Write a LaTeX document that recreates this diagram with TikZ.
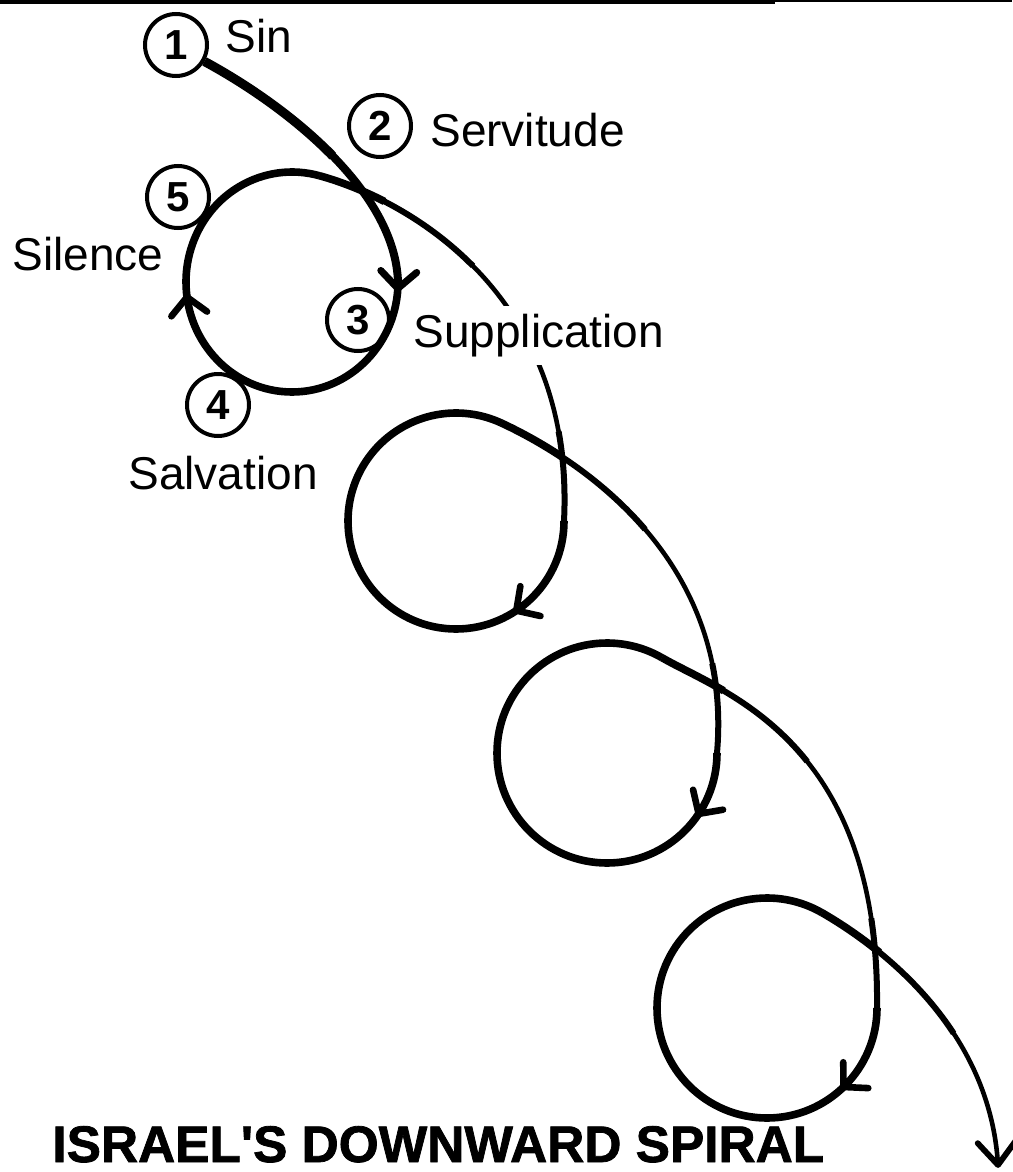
\documentclass[tikz,border=0pt]{standalone}
\usepackage{fontspec}
\setmainfont{Liberation Sans}
\newfontfamily\heavyfont{Liberation Sans Bold}[FakeBold=1.5]
\usetikzlibrary{decorations.markings}

\newcommand{\spiralarc}[4]{%
  \draw[thinline] (#1) .. controls #2 and #3 .. (#4);
  \draw[midline, dash pattern=on 90pt off 3000pt] (#1) .. controls #2 and #3 .. (#4);
  \draw[loopline, dash pattern=on 35pt off 3000pt] (#1) .. controls #2 and #3 .. (#4);
  \draw[midline, dash pattern=on 45pt off 3000pt] (#4) .. controls #3 and #2 .. (#1);
}
\newcommand{\vhead}[1]{\draw[solid,line width=#1,line cap=round,line join=round]
  (-8.5pt,9pt) -- (0pt,0pt) -- (-8.5pt,-9pt);}
\newcommand{\finalvhead}{\draw[solid,line width=2.9pt,line cap=round,line join=round]
  (-11.5pt,9.5pt) -- (0pt,0pt) -- (-11.5pt,-9.5pt);}

\begin{document}
\begin{tikzpicture}[x=0.5pt,y=-0.5pt,
  numcirc/.style={circle,draw,line width=2pt,fill=white,minimum size=31pt,inner sep=0pt,
    font=\fontsize{21pt}{21pt}\selectfont\bfseries},
  lbl/.style={anchor=base west,inner sep=0pt,font=\fontsize{23pt}{27pt}\selectfont},
  thinline/.style={line width=2.3pt},
  midline/.style={line width=3pt},
  loopline/.style={line width=3.8pt},
  descline/.style={line width=4pt},
  heavyline/.style={line width=4.6pt},
  midarrow/.style={postaction={decorate},
    decoration={markings,mark=at position #1 with {\vhead{3.3pt}}}}
]
\useasboundingbox (0,0) rectangle (1012,1172);

% top edge of the page
\draw[line width=2pt] (0,2) -- (775,2);
\draw[line width=1pt] (775,1.5) -- (1012,1.5);

% numbered circles
\node[numcirc] (c1) at (176,45) {1};
\node[numcirc] (c2) at (380,126) {2};
\node[numcirc] (c5) at (178,197) {5};
\node[numcirc] (c3) at (358,320) {3};
\node[numcirc] (c4) at (218,405) {4};

% spiral key points
\coordinate (R1) at (398,282); \coordinate (S1) at (319.4,175.7);
\coordinate (R2) at (564,521); \coordinate (S2) at (501.6,423.1);
\coordinate (R3) at (717,753); \coordinate (S3) at (662,657.7);
\coordinate (R4) at (877,1008); \coordinate (S4) at (822,912.7);
\coordinate (E) at (998,1165);

% first descent from Sin
\draw[descline] (c1.-30) .. controls (285,105) and (395,190) .. (R1);
\draw[heavyline, dash pattern=on 80pt off 3000pt] (c1.-30) .. controls (285,105) and (395,190) .. (R1);

% loops
\draw[loopline, postaction={decorate},
  decoration={markings,
    mark=at position 0.012 with {\vhead{3.5pt}},
    mark=at position 0.604 with {\vhead{3.3pt}}}]
  (R1) arc[start angle=0,end angle=285,x radius=106,y radius=110];
\draw[loopline, midarrow=0.19] (R2) arc[start angle=0,end angle=295,radius=108];
\draw[loopline, midarrow=0.112] (R3) arc[start angle=0,end angle=300,radius=110];
\draw[loopline, midarrow=0.153] (R4) arc[start angle=0,end angle=300,radius=110];

% long sweeping arcs
\spiralarc{S1}{(416,202.5)}{(575,300)}{R2}
\spiralarc{S2}{(556,448.5)}{(735,545)}{R3}
\spiralarc{S3}{(722.6,692.7)}{(880,740)}{R4}
\draw[thinline, postaction={decorate},
  decoration={markings,mark=at position 1 with {\finalvhead}}]
  (S4) .. controls (882.6,947.7) and (990,1030) .. (E);
\draw[midline, dash pattern=on 90pt off 3000pt] (S4) .. controls (882.6,947.7) and (990,1030) .. (E);
\draw[loopline, dash pattern=on 35pt off 3000pt] (S4) .. controls (882.6,947.7) and (990,1030) .. (E);

% labels
\node[lbl] (sin) at (225,53) {Sin};
\node[lbl] (serv) at (430,147) {Servitude};
\node[lbl] (sil) at (12,270) {Silence};
\node[lbl] (salv) at (128,489) {Salvation};
\node[lbl, fill=white, inner xsep=2pt, inner ysep=4pt] (supp) at (409,347) {Supplication};

\node[anchor=base west, inner sep=0pt, font=\heavyfont\fontsize{25.7pt}{30pt}\selectfont]
  (title) at (52,1162) {ISRAEL'S DOWNWARD SPIRAL};
\end{tikzpicture}
\end{document}
